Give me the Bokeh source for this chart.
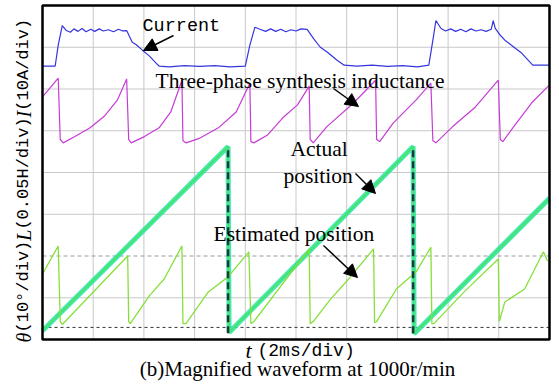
import math
from bokeh.plotting import figure
from bokeh.models import Range1d, Label, Arrow, NormalHead
from bokeh.embed import file_html
from bokeh.resources import INLINE

# ---- data (oscilloscope divisions: x 0..10 div @ 2 ms/div, y 0..8 div) ----
cur_x = [0.00, 0.25, 0.31, 0.39, 0.47, 0.55, 0.62, 0.70, 0.78, 0.86, 0.95, 1.03, 1.12, 1.20, 1.30,
         1.40, 1.50, 1.58, 1.66, 1.77, 1.85, 1.97, 2.10, 2.24, 2.30, 2.5, 2.8, 3.1, 3.4, 3.7,
         4.00, 4.09, 4.19, 4.29, 4.4, 4.5, 4.6, 4.7, 4.8, 4.9, 5.0, 5.1, 5.22, 5.35, 5.48,
         5.62, 5.81, 5.95, 6.2, 6.5, 6.8, 7.1, 7.4, 7.62, 7.70, 7.76, 7.86, 7.95, 8.05, 8.15,
         8.25, 8.35, 8.45, 8.55, 8.65, 8.75, 8.85, 8.89, 8.93, 9.02, 9.12, 9.28, 9.45, 9.67, 10.0]
cur_y = [6.55, 6.55, 7.05, 7.52, 7.40, 7.36, 7.44, 7.38, 7.45, 7.37, 7.43, 7.38, 7.44, 7.39, 7.42,
         7.37, 7.43, 7.39, 7.40, 7.12, 7.06, 6.93, 6.80, 6.62, 6.55, 6.53, 6.56, 6.54, 6.56, 6.53,
         6.55, 7.05, 7.48, 7.43, 7.38, 7.44, 7.38, 7.43, 7.37, 7.42, 7.39, 7.44, 7.43, 7.20, 7.00,
         6.88, 6.69, 6.57, 6.55, 6.57, 6.54, 6.56, 6.53, 6.57, 7.17, 7.64, 7.45, 7.39, 7.44, 7.38,
         7.43, 7.37, 7.44, 7.39, 7.42, 7.38, 7.43, 7.64, 7.45, 7.30, 7.17, 7.02, 6.86, 6.57, 6.57]

ind_x = [0.00, 0.31, 0.35, 0.41, 0.64, 0.94, 1.23, 1.48, 1.66, 1.70, 1.75, 2.01, 2.30, 2.53, 2.75,
         2.77, 2.83, 3.08, 3.47, 3.82, 4.09, 4.11, 4.17, 4.44, 4.74, 5.03, 5.26, 5.28, 5.34, 5.61,
         6.14, 6.57, 6.59, 6.65, 6.92, 7.37, 7.66, 7.70, 7.76, 8.09, 8.54, 8.99, 9.03, 9.08, 9.32,
         9.65, 10.0]
ind_y = [5.81, 6.26, 4.79, 4.71, 4.86, 5.07, 5.36, 5.74, 6.24, 4.79, 4.71, 4.86, 5.07, 5.45, 6.21,
         4.76, 4.71, 4.81, 5.07, 5.45, 6.14, 4.74, 4.71, 4.90, 5.31, 5.62, 6.07, 4.79, 4.71, 5.10,
         5.67, 6.21, 4.79, 4.74, 5.19, 5.74, 6.14, 4.76, 4.71, 5.10, 5.57, 6.21, 4.79, 4.74, 5.14,
         5.67, 6.10]

act_x = [0.00, 3.66, 3.68, 7.31, 7.33, 10.0]
act_y = [0.21, 4.62, 0.17, 4.62, 0.14, 3.38]

est_x = [0.00, 0.31, 0.35, 0.39, 1.68, 1.70, 1.73, 2.11, 2.40, 2.75, 2.77, 2.83, 3.27, 3.66, 4.07,
         4.11, 4.17, 5.26, 5.28, 5.34, 5.67, 6.06, 6.53, 6.55, 6.59, 6.98, 7.37, 7.66, 7.68, 7.72,
         8.34, 8.99, 9.01, 9.12, 9.51, 9.88, 9.96]
est_y = [1.57, 2.24, 0.43, 0.36, 2.00, 0.43, 0.38, 1.05, 1.45, 2.24, 0.38, 0.38, 1.14, 1.50, 2.10,
         0.38, 0.43, 2.17, 0.38, 0.43, 0.95, 1.48, 2.17, 0.40, 0.43, 1.21, 1.62, 2.21, 0.38, 0.38,
         1.17, 1.93, 0.43, 0.90, 1.21, 2.10, 1.88]

cursor_t = [3.66, 7.31]
cursor_top = [4.62, 4.62]
cursor_bottom = [0.15, 0.15]
hcursor_grey = 2.0
hcursor_dark = 0.29

x_divs = [1, 2, 3, 4, 5, 6, 7, 8, 9]
y_divs = [1, 3, 4, 5, 6, 7]
x_div_max = 10
y_div_max = 8

# ---- canvas layout (pixels) ----
W, H = 551, 382
FR_L, FR_R, FR_T, FR_B = 42, 549, 5, 339   # oscilloscope screen edges in canvas pixels
SX = (FR_R - FR_L) / x_div_max
SY = (FR_B - FR_T) / y_div_max

def X(px):
    return (px - FR_L) / SX

def Y(py):
    return (FR_B - py) / SY

p = figure(width=W, height=H, x_range=Range1d(X(0), X(W)), y_range=Range1d(Y(H), Y(0)),
           output_backend="svg", toolbar_location=None,
           min_border_left=0, min_border_right=0, min_border_top=0, min_border_bottom=0)
p.xaxis.visible = False
p.yaxis.visible = False
p.grid.visible = False
p.outline_line_color = None
p.background_fill_color = "white"
p.border_fill_color = "white"

# screen graticule
p.segment(x0=x_divs, y0=[0] * len(x_divs), x1=x_divs, y1=[y_div_max] * len(x_divs),
          line_color="#c8c8c8", line_width=1)
p.segment(x0=[0] * len(y_divs), y0=y_divs, x1=[x_div_max] * len(y_divs), y1=y_divs,
          line_color="#c8c8c8", line_width=1)
p.segment(x0=[0], y0=[hcursor_grey], x1=[x_div_max], y1=[hcursor_grey],
          line_color="#9a9a9a", line_dash="4 3", line_width=1)
p.segment(x0=[0], y0=[hcursor_dark], x1=[x_div_max], y1=[hcursor_dark],
          line_color="#333333", line_dash="3 3", line_width=1)

p.line(cur_x, cur_y, line_color="#3535dd", line_width=1.2)
p.line(ind_x, ind_y, line_color="#c63cd6", line_width=1.2)
p.line(act_x, act_y, line_color="#33e6aa", line_width=5, line_alpha=0.9)
p.line(act_x, act_y, line_color="#47e35c", line_width=1.5)
p.line(est_x, est_y, line_color="#86e03a", line_width=1.3)
p.segment(x0=cursor_t, y0=cursor_bottom, x1=cursor_t, y1=cursor_top,
          line_color="#1d3a3a", line_width=2.5, line_dash="7 4")

p.quad(left=[0], right=[x_div_max], bottom=[0], top=[y_div_max],
       fill_color=None, line_color="black", line_width=2.5)

SERIF = "Liberation Serif"
MONO = "Liberation Mono"

def lab(text, px, py, font=SERIF, size=21.5, style="normal", align="left", angle=0.0):
    p.add_layout(Label(x=X(px), y=Y(py), text=text, text_font=font,
                       text_font_size=f"{size}px", text_font_style=style,
                       text_align=align, text_baseline="middle", text_color="black",
                       angle=angle))

lab("Current", 142, 26, font=MONO, size=18.5)
lab("Three-phase synthesis inductance", 155, 80)
lab("Actual", 290, 148)
lab("position", 283, 175)
lab("Estimated position", 213, 233)

def arrow(x0, y0, x1, y1):
    p.add_layout(Arrow(x_start=X(x0), y_start=Y(y0), x_end=X(x1), y_end=Y(y1),
                       line_color="black", line_width=1.5,
                       end=NormalHead(size=13, fill_color="black", line_color="black")))

arrow(173, 35, 143, 50)
arrow(333, 88, 358, 106)
arrow(355, 173, 375, 193)
arrow(323, 245, 357, 277)

# y-axis label: pieces read bottom-to-top
mono_sz = 17
ital_sz = 20
pieces = [("θ", SERIF, ital_sz, "italic", 0.5),
          ("(10°/div)", MONO, mono_sz, "normal", 0.6),
          ("L", SERIF, ital_sz, "italic", 0.556),
          ("(0.05H/div)", MONO, mono_sz, "normal", 0.6),
          ("I", SERIF, ital_sz, "italic", 0.333),
          (" (10A/div)", MONO, mono_sz, "normal", 0.6)]
ypos = 342.0
for text, font, size, style, adv in pieces:
    lab(text, 23, ypos, font=font, size=size, style=style, angle=math.pi / 2)
    ypos -= len(text) * adv * size

# x-axis label and caption
lab("t", 245, 350, size=22, style="italic")
lab("(2ms/div)", 257, 350, font=MONO, size=18)
lab("(b)Magnified waveform at 1000r/min", 297, 368, size=21, align="center")

open("out.html", "w").write(file_html(p, INLINE))
